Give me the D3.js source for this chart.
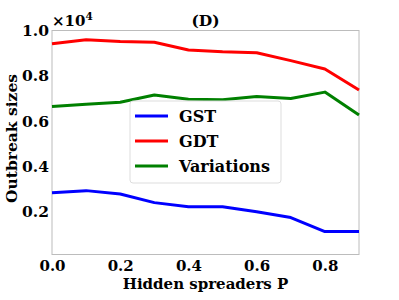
<!DOCTYPE html>
<html><head><meta charset="utf-8">
<script src="https://cdn.jsdelivr.net/npm/d3@7"></script>
<style>body{margin:0;background:#fff}svg{display:block}svg text{font-family:"DejaVu Serif" !important;font-weight:bold !important}</style>
</head><body><svg id="c" width="399" height="300" font-family="DejaVu Serif" font-weight="bold"></svg>
<script>
const P = [0.0,0.1,0.2,0.3,0.4,0.5,0.6,0.7,0.8,0.9];
const GST = [2840,2930,2780,2400,2220,2220,2000,1740,1120,1120];
const GDT = [9420,9590,9510,9480,9140,9060,9020,8670,8300,7370];
const Variations = [6640,6740,6830,7150,6960,6940,7090,7000,7280,6270];
const seriesNames = ["GST","GDT","Variations"];
const seriesColors = ["#0000ff","#ff0000","#008000"];
const xTicks = [0.0,0.2,0.4,0.6,0.8];
const yTicks = [2000,4000,6000,8000,10000];

const svg = d3.select("#c");
const L=52, R=359, T=30.5, B=254.5;
const x = d3.scaleLinear().domain([0,0.9]).range([L,R]);
const y = d3.scaleLinear().domain([110,10000]).range([B,T]);

svg.append("rect").attr("x",L).attr("y",T).attr("width",R-L).attr("height",B-T)
  .attr("fill","none").attr("stroke","#bcbcbc").attr("stroke-width",1);

const data = [GST,GDT,Variations];
const line = d3.line().x((d,i)=>x(P[i])).y(d=>y(d));
const g = svg.append("g");
data.forEach((s,k)=>{
  g.append("path").datum(s).attr("d",line).attr("fill","none")
   .attr("stroke",seriesColors[k]).attr("stroke-width",3).attr("stroke-linejoin","round");
});

const xa = d3.axisBottom(x).tickValues(xTicks).tickFormat(d3.format(".1f")).tickSize(0).tickPadding(6);
const xg = svg.append("g").attr("transform",`translate(0,${B})`).call(xa);
xg.attr("font-family","DejaVu Serif");
xg.select(".domain").remove();
xg.selectAll("text").attr("font-size",15).attr("fill","#000");
const ya = d3.axisLeft(y).tickValues(yTicks).tickFormat(d=>(d/1e4).toFixed(1)).tickSize(0).tickPadding(3);
const yg = svg.append("g").attr("transform",`translate(${L},0)`).call(ya);
yg.attr("font-family","DejaVu Serif");
yg.select(".domain").remove();
yg.selectAll("text").attr("font-size",15.5).attr("fill","#000");

const off = svg.append("text").attr("x",L).attr("y",26).attr("font-size",15);
off.append("tspan").text("×10");
off.append("tspan").attr("font-size",10.5).attr("dy",-6).text("4");

svg.append("text").attr("x",(L+R)/2).attr("y",26).attr("text-anchor","middle").attr("font-size",15.5).text("(D)");

svg.append("text").attr("x",(L+R)/2).attr("y",289).attr("text-anchor","middle").attr("font-size",15).text("Hidden spreaders P");
svg.append("text").attr("transform",`translate(17,${(T+B)/2-4}) rotate(-90)`).attr("text-anchor","middle").attr("font-size",15.5).text("Outbreak sizes");

const lg = svg.append("g").attr("transform","translate(130,101)");
lg.append("rect").attr("width",151).attr("height",82).attr("rx",3)
  .attr("fill","#fff").attr("fill-opacity",0.8).attr("stroke","#ddd").attr("stroke-width",1);
seriesNames.forEach((n,k)=>{
  const yy = 15 + k*25;
  lg.append("line").attr("x1",5).attr("x2",38).attr("y1",yy).attr("y2",yy)
    .attr("stroke",seriesColors[k]).attr("stroke-width",3);
  lg.append("text").attr("x",49).attr("y",yy).attr("dy","0.36em").attr("font-size",16).text(n);
});
</script></body></html>
